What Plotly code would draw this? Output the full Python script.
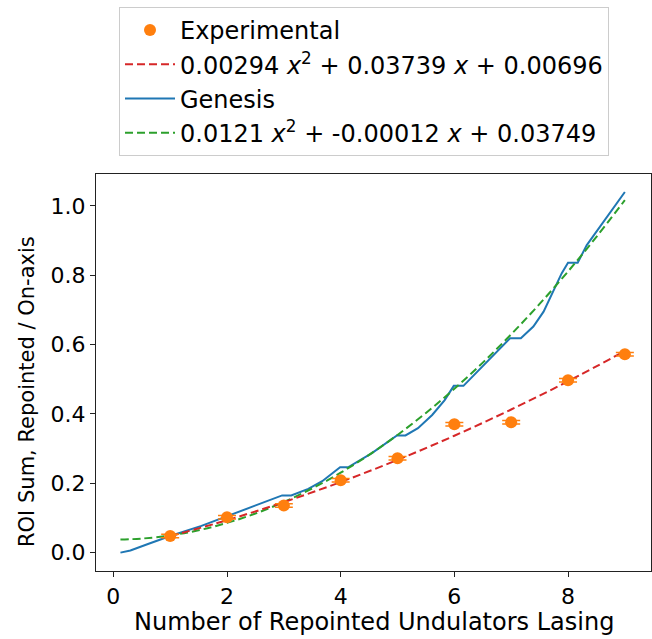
import plotly.graph_objects as go

# ---- data ----
exp_x = [1, 2, 3, 4, 5, 6, 7, 8, 9]
exp_y = [0.048, 0.102, 0.136, 0.209, 0.272, 0.370, 0.376, 0.497, 0.572]
exp_err = [0.005, 0.005, 0.005, 0.005, 0.005, 0.005, 0.005, 0.005, 0.005]

red_fit_x = [1, 2, 3, 4, 5, 6, 7, 8, 9]
red_fit_y = [0.0473, 0.0935, 0.1456, 0.2036, 0.2674, 0.3371, 0.4128, 0.4942, 0.5816]

genesis_x = [0.125, 0.3, 0.61, 1.0, 1.55, 2.0, 2.49, 2.97, 3.13, 3.43, 3.675, 3.86, 3.99,
             4.13, 4.55, 4.99, 5.14, 5.36, 5.61, 5.83, 5.99, 6.16, 6.55, 6.98, 7.17,
             7.39, 7.57, 7.74, 7.89, 8.0, 8.17, 8.33, 8.56, 8.80, 9.0]
genesis_y = [0.0, 0.006, 0.025, 0.048, 0.077, 0.105, 0.134, 0.165, 0.165, 0.184, 0.206, 0.230, 0.246,
             0.246, 0.287, 0.338, 0.338, 0.359, 0.397, 0.440, 0.481, 0.481, 0.545, 0.618, 0.618,
             0.652, 0.695, 0.753, 0.806, 0.836, 0.836, 0.887, 0.940, 0.993, 1.040]

green_fit_x = [0.125, 0.5, 1, 1.5, 2, 2.5, 3, 3.5, 4, 4.5, 5, 5.5, 6, 6.5, 7, 7.5, 8, 8.5, 9]
green_fit_y = [0.0377, 0.0405, 0.0495, 0.0645, 0.0857, 0.1128, 0.1460, 0.1853, 0.2306, 0.2820,
               0.3394, 0.4029, 0.4724, 0.5479, 0.6296, 0.7172, 0.8109, 0.9107, 1.0165]

names = ["Experimental",
         "0.00294 <i>x</i><sup>2</sup> + 0.03739 <i>x</i> + 0.00696",
         "Genesis",
         "0.0121 <i>x</i><sup>2</sup> + -0.00012 <i>x</i> + 0.03749"]

x_ticks = [0, 2, 4, 6, 8]
y_ticks = [0.0, 0.2, 0.4, 0.6, 0.8, 1.0]
x_title = "Number of Repointed Undulators Lasing"
y_title = "ROI Sum, Repointed / On-axis"

FONT = "DejaVu Sans"
W, H = 652, 639
L, R, T, B = 96, 651, 174, 571  # plot area in pixels


def px_to_paper(px, py):
    return (px - L) / (R - L), (B - py) / (B - T)


fig = go.Figure()
fig.add_trace(go.Scatter(x=genesis_x, y=genesis_y, mode="lines", name=names[2],
                         line=dict(color="#1f77b4", width=2), legendrank=3))
fig.add_trace(go.Scatter(x=green_fit_x, y=green_fit_y, mode="lines", name=names[3],
                         line=dict(color="#2ca02c", width=2, dash="8px,4px", shape="spline"),
                         legendrank=4))
fig.add_trace(go.Scatter(x=red_fit_x, y=red_fit_y, mode="lines", name=names[1],
                         line=dict(color="#d62728", width=2, dash="8px,4px", shape="spline"),
                         legendrank=2))
fig.add_trace(go.Scatter(x=exp_x, y=exp_y, mode="markers", name=names[0],
                         marker=dict(color="#ff7f0e", size=12),
                         error_y=dict(type="data", array=exp_err, color="#ff7f0e",
                                      thickness=1.5, width=9),
                         legendrank=1))

axis_common = dict(showline=True, linecolor="#222", linewidth=1.2, mirror=True,
                   ticks="outside", ticklen=5, tickwidth=1, tickcolor="#222",
                   showgrid=False, zeroline=False,
                   tickfont=dict(family=FONT, size=22, color="black"))

fig.update_xaxes(range=[-0.305, 9.46], tickvals=x_ticks, **axis_common)
fig.update_yaxes(range=[-0.053, 1.092], tickvals=y_ticks, tickformat=".1f", **axis_common)

xa, ya = px_to_paper(374, 622)
fig.add_annotation(text=x_title, xref="paper", yref="paper", x=xa, y=ya,
                   xanchor="center", yanchor="middle", showarrow=False,
                   font=dict(family=FONT, size=24, color="black"))
xa, ya = px_to_paper(27, 392)
fig.add_annotation(text=y_title, xref="paper", yref="paper", x=xa, y=ya,
                   xanchor="center", yanchor="middle", showarrow=False, textangle=-90,
                   font=dict(family=FONT, size=21, color="black"))

fig.update_layout(
    width=W, height=H,
    margin=dict(l=L, r=W - R, t=T, b=H - B, autoexpand=False),
    plot_bgcolor="white", paper_bgcolor="white",
    font=dict(family=FONT, color="black"),
    legend=dict(xref="container", yref="container", x=119 / W, y=1 - 7 / H,
                xanchor="left", yanchor="top",
                bgcolor="white", bordercolor="#cccccc", borderwidth=1,
                font=dict(family=FONT, size=24, color="black"),
                itemwidth=50, tracegroupgap=0),
)

fig.write_html("out.html")
